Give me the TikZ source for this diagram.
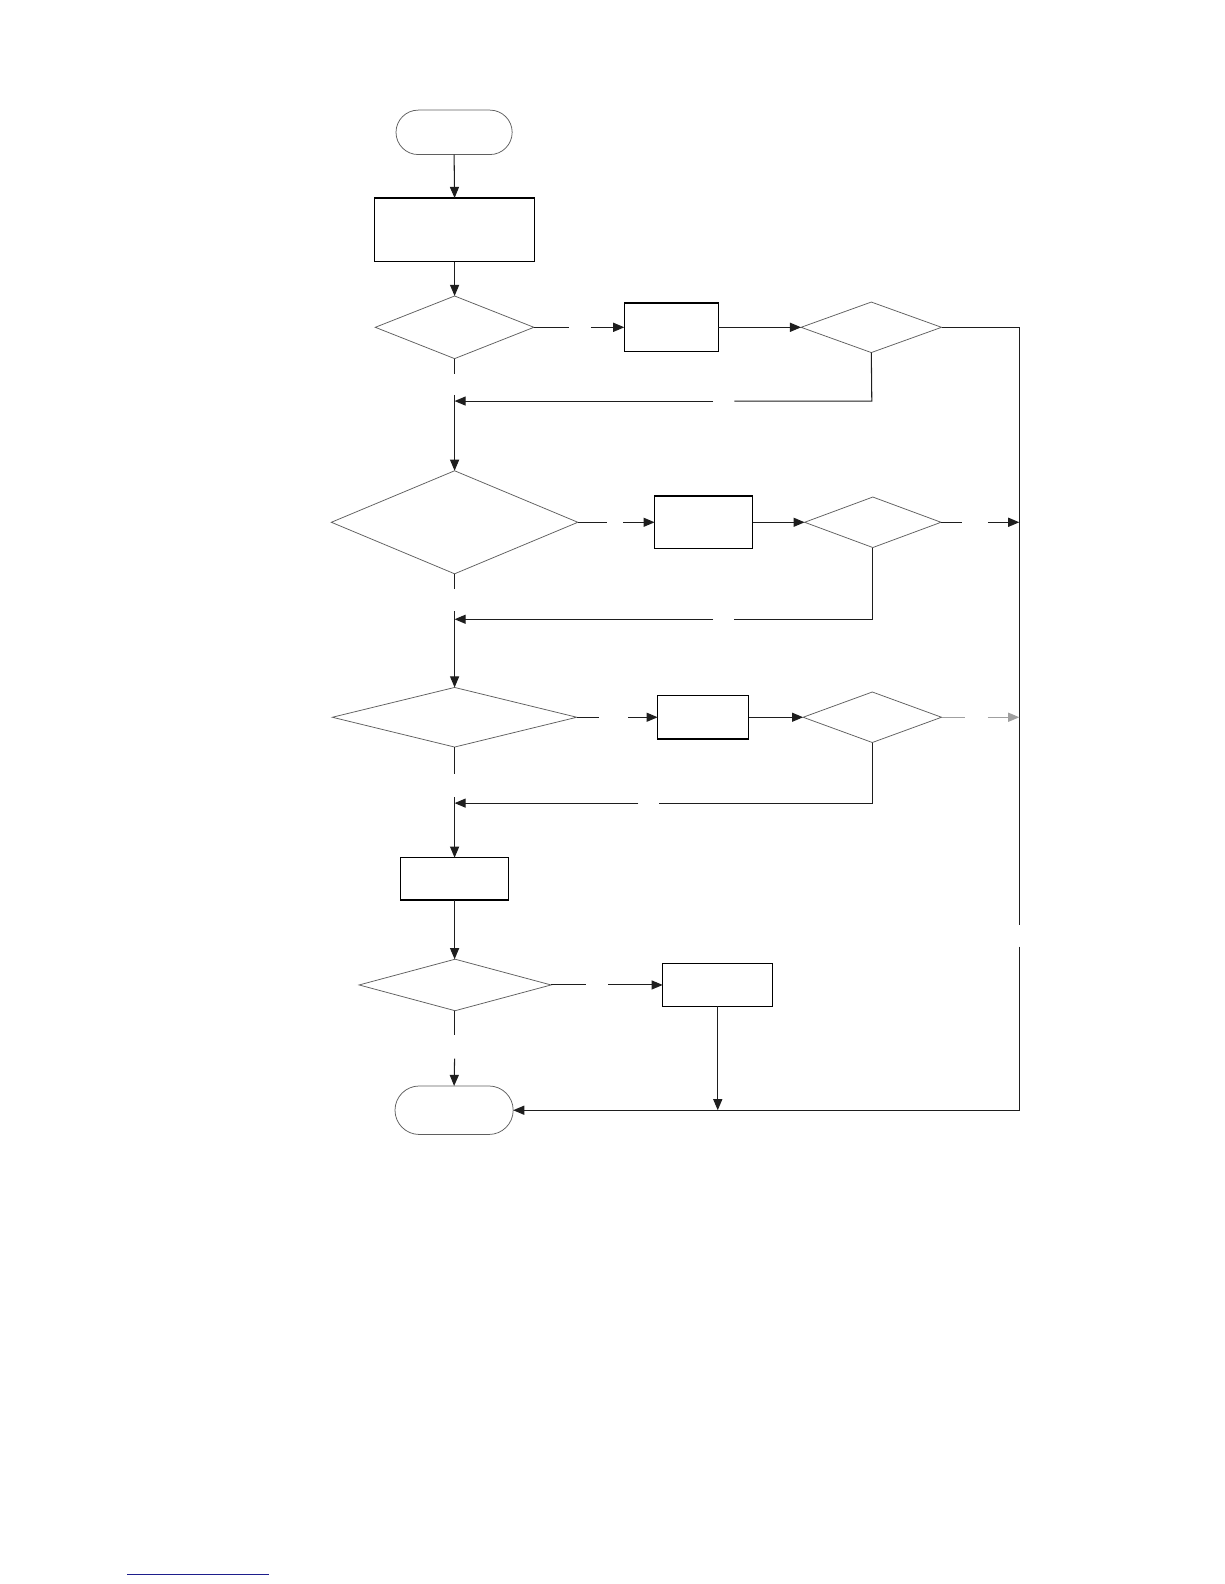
\documentclass[tikz,border=0pt]{standalone}
\usetikzlibrary{shapes.geometric,arrows.meta}
\definecolor{linecol}{RGB}{30,30,30}
\definecolor{shapegray}{RGB}{95,95,95}
\definecolor{fadegray}{RGB}{160,160,160}
\definecolor{linkblue}{RGB}{30,30,140}
\tikzset{
  conn/.style={draw=linecol, line width=1.05pt},
  arr/.style={conn, -{Triangle[length=11pt,width=9pt]}},
  procbox/.style={draw=black, line width=1.2pt, rectangle, inner sep=0pt, outer sep=0pt},
  decide/.style={draw=shapegray, line width=0.75pt, diamond, inner sep=0pt, outer sep=0pt},
  term/.style={draw=shapegray, line width=0.75pt, rectangle, rounded corners=22pt, inner sep=0pt, outer sep=0pt},
}
\begin{document}
\begin{tikzpicture}[x=1pt,y=-1pt]
\useasboundingbox (0,0) rectangle (1212,1568);
% nodes
\node[term, minimum width=115pt, minimum height=44pt] (start) at (449.5,131) {};
\node[procbox, minimum width=158pt, minimum height=63pt] (box1) at (450,227.5) {};
\node[decide, minimum width=157pt, minimum height=62pt] (d1) at (450,324) {};
\node[procbox, minimum width=93pt, minimum height=48pt] (p1) at (664.5,324) {};
\node[decide, minimum width=139pt, minimum height=50pt] (c1) at (862.5,324) {};
\node[decide, minimum width=244pt, minimum height=102pt] (d2) at (450,517) {};
\node[procbox, minimum width=97pt, minimum height=52pt] (p2) at (696.5,517) {};
\node[decide, minimum width=135pt, minimum height=50pt] (c2) at (864,517) {};
\node[decide, minimum width=242pt, minimum height=59pt] (d3) at (450,710) {};
\node[procbox, minimum width=90pt, minimum height=43pt] (p3) at (696,710) {};
\node[decide, minimum width=137pt, minimum height=50pt] (c3) at (863.5,710) {};
\node[procbox, minimum width=107pt, minimum height=42pt] (p4) at (450,870) {};
\node[decide, minimum width=190pt, minimum height=51pt] (d4) at (450.5,975) {};
\node[procbox, minimum width=109pt, minimum height=42pt] (p5) at (710.5,975) {};
\node[term, minimum width=117pt, minimum height=48pt, rounded corners=24pt] (end) at (449.5,1099) {};
% coordinates
\coordinate (g1a) at (563,324); \coordinate (g1b) at (585,324);
\coordinate (rtop) at (1009,324); \coordinate (rgap1) at (1009,916);
\coordinate (rgap2) at (1009,937); \coordinate (rbot) at (1009,1099);
\coordinate (l1c) at (863,397); \coordinate (l1a) at (727,397); \coordinate (l1b) at (706,397); \coordinate (j1) at (450,397);
\coordinate (m1a) at (450,370); \coordinate (m1b) at (450,391);
\coordinate (g2a) at (601,517); \coordinate (g2b) at (617,517);
\coordinate (h2a) at (952,517); \coordinate (h2b) at (978,517); \coordinate (rv2) at (1009,517);
\coordinate (l2c) at (864,613); \coordinate (l2a) at (727,613); \coordinate (l2b) at (706,613); \coordinate (j2) at (450,613);
\coordinate (m2a) at (450,583); \coordinate (m2b) at (450,605);
\coordinate (g3a) at (593,710); \coordinate (g3b) at (622,710);
\coordinate (h3a) at (955,710); \coordinate (h3b) at (978,710); \coordinate (rv3) at (1009,710);
\coordinate (l3c) at (863.5,795); \coordinate (l3a) at (652,795); \coordinate (l3b) at (632,795); \coordinate (j3) at (450,795);
\coordinate (m3a) at (450,766); \coordinate (m3b) at (450,789);
\coordinate (g4a) at (580,975); \coordinate (g4b) at (602,975);
\coordinate (j5) at (710.5,1099);
\coordinate (m4a) at (450,1025); \coordinate (m4b) at (450,1048);
% connectors
\draw[arr] (start.south) -- (box1.north);
\draw[arr] (box1.south) -- (d1.north);
\draw[conn] (d1.east) -- (g1a);
\draw[arr] (g1b) -- (p1.west);
\draw[arr] (p1.east) -- (c1.west);
\draw[conn] (c1.east) -- (rtop) -- (rgap1);
\draw[arr] (rgap2) -- (rbot) -- (end.east);
\draw[conn] (c1.south) -- (l1c) -- (l1a);
\draw[arr] (l1b) -- (j1);
\draw[conn] (d1.south) -- (m1a);
\draw[arr] (m1b) -- (d2.north);
\draw[conn] (d2.east) -- (g2a);
\draw[arr] (g2b) -- (p2.west);
\draw[arr] (p2.east) -- (c2.west);
\draw[conn] (c2.east) -- (h2a);
\draw[arr] (h2b) -- (rv2);
\draw[conn] (c2.south) -- (l2c) -- (l2a);
\draw[arr] (l2b) -- (j2);
\draw[conn] (d2.south) -- (m2a);
\draw[arr] (m2b) -- (d3.north);
\draw[conn] (d3.east) -- (g3a);
\draw[arr] (g3b) -- (p3.west);
\draw[arr] (p3.east) -- (c3.west);
\draw[conn, draw=fadegray] (c3.east) -- (h3a);
\draw[arr, draw=fadegray, fill=fadegray] (h3b) -- (rv3);
\draw[conn] (c3.south) -- (l3c) -- (l3a);
\draw[arr] (l3b) -- (j3);
\draw[conn] (d3.south) -- (m3a);
\draw[arr] (m3b) -- (p4.north);
\draw[arr] (p4.south) -- (p4.south |- d4.north);
\draw[conn] (d4.east) -- (g4a);
\draw[arr] (g4b) -- (p5.west);
\draw[arr] (p5.south) -- (j5);
\draw[conn] (m4a |- d4.south) -- (m4a);
\draw[arr] (m4b) -- (end.north);
% underline at page foot
\coordinate (u1) at (126,1559); \coordinate (u2) at (266,1559);
\draw[draw=linkblue, line width=1.1pt] (u1) -- (u2);
\end{tikzpicture}
\end{document}
